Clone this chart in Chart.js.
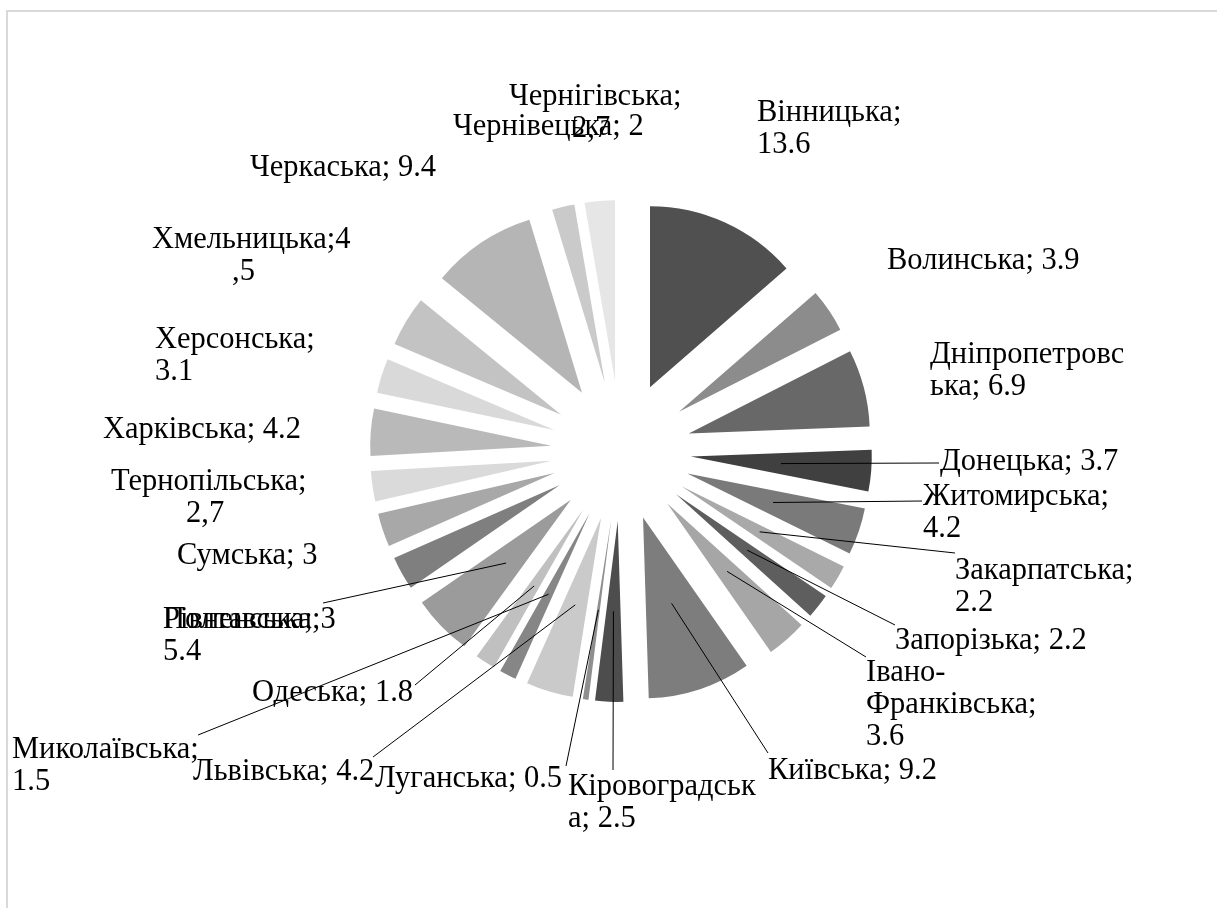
<!DOCTYPE html>
<html lang="uk">
<head>
<meta charset="utf-8">
<title>Області</title>
<script src="https://cdn.jsdelivr.net/npm/chart.js@4.4.1/dist/chart.umd.min.js"></script>
<style>
  html, body { margin: 0; padding: 0; background: #fff; overflow: hidden; }
</style>
</head>
<body>
<canvas id="pie" width="1217" height="908"></canvas>
<script>
const regions = [
  'Вінницька', 'Волинська', 'Дніпропетровська', 'Донецька', 'Житомирська',
  'Закарпатська', 'Запорізька', 'Івано-Франківська', 'Київська', 'Кіровоградська',
  'Луганська', 'Львівська', 'Миколаївська', 'Одеська', 'Полтавська',
  'Рівненська', 'Сумська', 'Тернопільська', 'Харківська', 'Херсонська',
  'Хмельницька', 'Черкаська', 'Чернівецька', 'Чернігівська'
];

const shares = [
  13.6, 3.9, 6.9, 3.7, 4.2,
  2.2, 2.2, 3.6, 9.2, 2.5,
  0.5, 4.2, 1.5, 1.8, 5.4,
  3, 3, 2.7, 4.2, 3.1,
  4.5, 9.4, 2, 2.7
];

const sliceGrays = [
  '#505050', '#8c8c8c', '#686868', '#404040', '#7a7a7a',
  '#a9a9a9', '#5e5e5e', '#a6a6a6', '#7d7d7d', '#4d4d4d',
  '#8f8f8f', '#cacaca', '#868686', '#c0c0c0', '#9b9b9b',
  '#7f7f7f', '#a8a8a8', '#dadada', '#b9b9b9', '#d9d9d9',
  '#c3c3c3', '#b5b5b5', '#cacaca', '#e6e6e6'
];

// label text, already broken into lines
const labelLines = [
  ['Вінницька;', '13.6'],
  ['Волинська; 3.9'],
  ['Дніпропетровс', 'ька; 6.9'],
  ['Донецька; 3.7'],
  ['Житомирська;', '4.2'],
  ['Закарпатська;', '2.2'],
  ['Запорізька; 2.2'],
  ['Івано-', 'Франківська;', '3.6'],
  ['Київська; 9.2'],
  ['Кіровоградськ', 'а; 2.5'],
  ['Луганська; 0.5'],
  ['Львівська; 4.2'],
  ['Миколаївська;', '1.5'],
  ['Одеська; 1.8'],
  ['Полтавська;', '5.4'],
  ['Рівненська; 3'],
  ['Сумська; 3'],
  ['Тернопільська;', '2,7'],
  ['Харківська; 4.2'],
  ['Херсонська;', '3.1'],
  ['Хмельницька;4', ',5'],
  ['Черкаська; 9.4'],
  ['Чернівецька; 2'],
  ['Чернігівська;', '2,7']
];

// where each label sits, px from the pie centre (left edge, middle of first line)
const labelSpots = [
  [136, -338], [266, -190], [309, -96], [319, 11], [302, 46],
  [334, 120], [274, 190], [245, 222], [147, 320], [-53, 336],
  [-246, 328], [-428, 321], [-609, 299], [-369, 242], [-458, 169],
  [-458, 169], [-444, 105], [-510, 31], [-518, -21], [-466, -111],
  [-469, -211], [-371, -283], [-168, -324], [-112, -354]
];

// extra left shift for single lines (index of line -> px)
const lineIndents = {
  17: [0, 75],
  20: [0, 80],
  23: [0, 63]
};

// end of the leader line next to its label, px from the pie centre
const leaderEnds = [
  null, null, null, [318, 12], [301, 50],
  [334, 102], [274, 174], [245, 206], [147, 302], [-8, 319],
  [-55, 315], [-248, 306], [-423, 284], [-206, 234], [-298, 152],
  null, null, null, null, null,
  null, null, null, null
];

const EXPLODE = 70;
const PIE_RADIUS = 181;
const FONT_PX = 30.5;
const LINE_GAP = 32;

const frame = {
  id: 'frame',
  beforeDraw(chart) {
    const ctx = chart.ctx;
    ctx.save();
    ctx.fillStyle = '#fff';
    ctx.fillRect(0, 0, chart.width, chart.height);
    ctx.strokeStyle = '#d9d9d9';
    ctx.lineWidth = 2;
    ctx.strokeRect(7, 11, chart.width + 20, chart.height + 20);
    ctx.restore();
  }
};

// pulls every slice out along its own bisector
const explode = {
  id: 'explode',
  beforeDatasetDraw(chart, args, opts) {
    const ctx = chart.ctx;
    args.meta.data.forEach(arc => {
      const mid = (arc.startAngle + arc.endAngle) / 2;
      ctx.save();
      ctx.translate(Math.cos(mid) * opts.distance, Math.sin(mid) * opts.distance);
      arc.draw(ctx);
      ctx.restore();
    });
    return false;
  }
};

const sliceLabels = {
  id: 'sliceLabels',
  afterDatasetsDraw(chart, args, opts) {
    const ctx = chart.ctx;
    const arcs = chart.getDatasetMeta(0).data;
    const cx = arcs[0].x;
    const cy = arcs[0].y;

    ctx.save();
    ctx.strokeStyle = '#000';
    ctx.lineWidth = 1;
    arcs.forEach((arc, i) => {
      const end = leaderEnds[i];
      if (!end) return;
      const mid = (arc.startAngle + arc.endAngle) / 2;
      const r = opts.distance + arc.outerRadius / 2;
      ctx.beginPath();
      ctx.moveTo(cx + Math.cos(mid) * r, cy + Math.sin(mid) * r);
      ctx.lineTo(cx + end[0], cy + end[1]);
      ctx.stroke();
    });

    ctx.fillStyle = '#000';
    ctx.font = FONT_PX + 'px "Liberation Serif", "Times New Roman", serif';
    ctx.textBaseline = 'middle';
    ctx.textAlign = 'left';
    labelLines.forEach((lines, i) => {
      const [dx, dy] = labelSpots[i];
      const indents = lineIndents[i] || [];
      lines.forEach((txt, k) => {
        ctx.fillText(txt, cx + dx + (indents[k] || 0), cy + dy + k * LINE_GAP);
      });
    });
    ctx.restore();
  }
};

new Chart(document.getElementById('pie'), {
  type: 'pie',
  data: {
    labels: regions,
    datasets: [{
      data: shares,
      backgroundColor: sliceGrays,
      borderWidth: 0
    }]
  },
  options: {
    responsive: false,
    animation: false,
    events: [],
    radius: PIE_RADIUS,
    layout: { padding: { left: 25, right: 0, top: 0, bottom: 6 } },
    plugins: {
      legend: { display: false },
      tooltip: { enabled: false },
      explode: { distance: EXPLODE },
      sliceLabels: { distance: EXPLODE }
    }
  },
  plugins: [frame, explode, sliceLabels]
});
</script>
</body>
</html>
